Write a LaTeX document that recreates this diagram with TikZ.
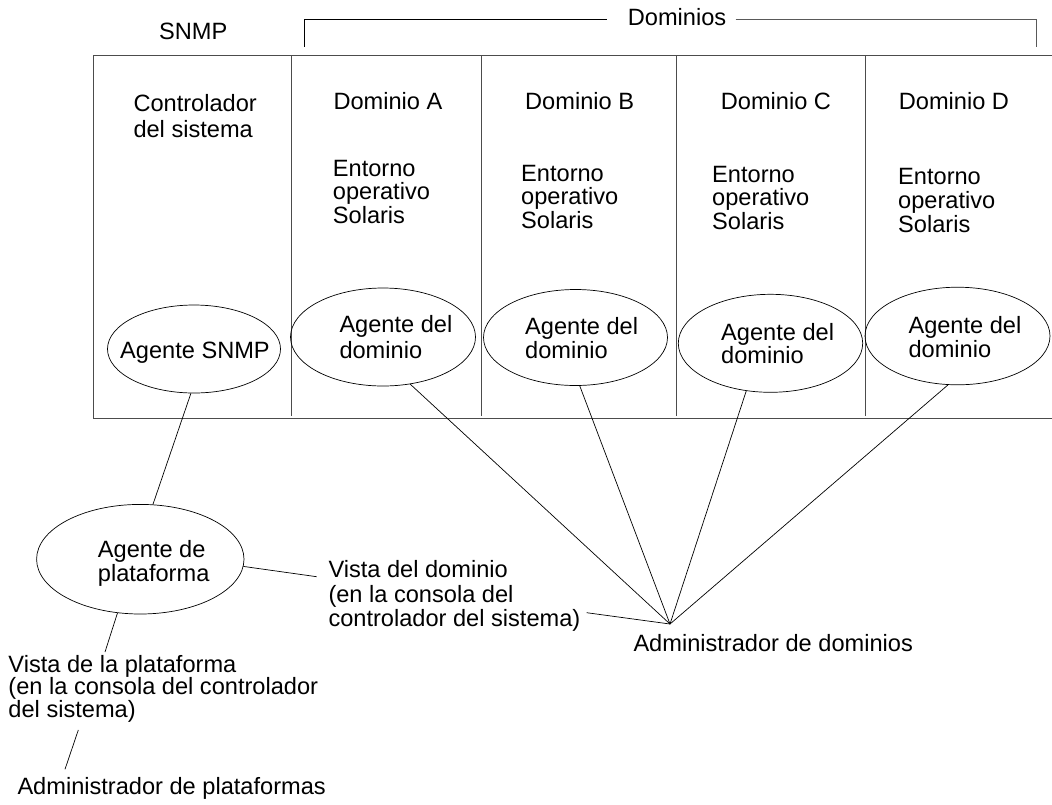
\documentclass[tikz,border=0pt]{standalone}
\usepackage{fontspec}
\setmainfont{Liberation Sans}
\usetikzlibrary{shapes.geometric}
\begin{document}
\begin{tikzpicture}[x=1pt,y=-1pt,
  frame/.style={line width=0.9pt, draw=black!70},
  wire/.style={line width=0.7pt, draw=black},
  agent/.style={draw=black, line width=0.7pt, ellipse, inner sep=0pt},
  lbl/.style={inner sep=0pt, font=\fontsize{23.6}{25}\selectfont, align=left},
  tl/.style={lbl, anchor=north west},
  bl/.style={lbl, anchor=base west},
]
\fill[white] (0,0) rectangle (1052,804);
\useasboundingbox (0,0) rectangle (1052,804);

% top labels and bracket
\node[bl] (snmp) at (159,39.3) {SNMP};
\node[bl] (dom) at (627.7,25) {Dominios};
\coordinate (b1) at (304,46.7);
\coordinate (b2) at (607.3,19.5);
\coordinate (b3) at (735.7,19.5);
\coordinate (b4) at (1036,46.7);
\draw[wire] (b1) |- (b2);
\draw[wire, draw=black!65] (b3) -| (b4);

% frame
\draw[frame] (1052,55) -- (93,55) -- (93,418) -- (1052,418);
\foreach \x in {291,481.5,676,865.5}
  \draw[frame] (\x,55) -- (\x,416);

% column headings
\node[tl, font=\fontsize{23.6}{25.7}\selectfont] (ctl) at (133.3,94) {Controlador\\del sistema};
\node[bl] (da) at (333.3,109) {Dominio A};
\node[bl] (db) at (525,109) {Dominio B};
\node[bl] (dc) at (720.7,109) {Dominio C};
\node[bl] (dd) at (898.7,109) {Dominio D};

\node[tl, font=\fontsize{23.6}{23.8}\selectfont] (oa) at (332.7,159.7) {Entorno\\operativo\\Solaris};
\node[tl, font=\fontsize{23.6}{23.8}\selectfont] (ob) at (521,164.7) {Entorno\\operativo\\Solaris};
\node[tl, font=\fontsize{23.6}{23.8}\selectfont] (oc) at (712,165.7) {Entorno\\operativo\\Solaris};
\node[tl, font=\fontsize{23.6}{23.8}\selectfont] (od) at (898,168) {Entorno\\operativo\\Solaris};

% agent ellipses
\node[agent, minimum width=173pt, minimum height=88pt] (es) at (194,349) {};
\node[agent, minimum width=185pt, minimum height=98pt] (ea) at (383,337) {};
\node[agent, minimum width=184pt, minimum height=96pt] (eb) at (575.5,337.5) {};
\node[agent, minimum width=184.4pt, minimum height=98pt] (ec) at (770.5,343.3) {};
\node[agent, minimum width=185pt, minimum height=97.6pt] (ed) at (957.5,336) {};
\node[agent, minimum width=207.4pt, minimum height=109.6pt] (ep) at (140.3,559.2) {};

\node[bl] (tes) at (120,358) {Agente SNMP};
\node[tl, font=\fontsize{23.6}{26}\selectfont] (tea) at (339.3,314.7) {Agente del\\dominio};
\node[tl, font=\fontsize{23.6}{24}\selectfont] (teb) at (525,317.3) {Agente del\\dominio};
\node[tl, font=\fontsize{23.6}{23.3}\selectfont] (tec) at (721,323) {Agente del\\dominio};
\node[tl, font=\fontsize{23.6}{24}\selectfont] (ted) at (908.3,315.7) {Agente del\\dominio};
\node[tl, font=\fontsize{23.6}{24.3}\selectfont] (tep) at (97.7,539.7) {Agente de\\plataforma};

% lower labels
\node[tl, font=\fontsize{23.6}{24.3}\selectfont] (vd) at (328.3,560.5) {Vista del dominio\\(en la consola del\\controlador del sistema)};
\node[bl] (ad) at (633.3,651.7) {Administrador de dominios};
\node[tl, font=\fontsize{23.6}{22.7}\selectfont] (vp) at (8.3,654.7) {Vista de la plataforma\\(en la consola del controlador\\del sistema)};
\node[bl] (ap) at (17.3,794.5) {Administrador de plataformas};

% connectors
\coordinate (hub) at (670,624);
\coordinate (vdin) at (316.7,576.7);
\coordinate (vdout) at (586.7,612.7);
\coordinate (vptop) at (105,652);
\coordinate (vpbot) at (78.3,730);
\coordinate (aptop) at (65,769.3);

\draw[wire] (es.-94) -- (ep.77);
\draw[wire] (ep.-4) -- (vdin);
\draw[wire] (ep.-113) -- (vptop);
\draw[wire] (vpbot) -- (aptop);
\draw[wire] (vdout) -- (hub);
\draw[wire] (ea.-60) -- (hub);
\draw[wire] (eb.-85) -- (hub);
\draw[wire] (ec.-117) -- (hub);
\draw[wire] (ed.-101) -- (hub);
\end{tikzpicture}
\end{document}
